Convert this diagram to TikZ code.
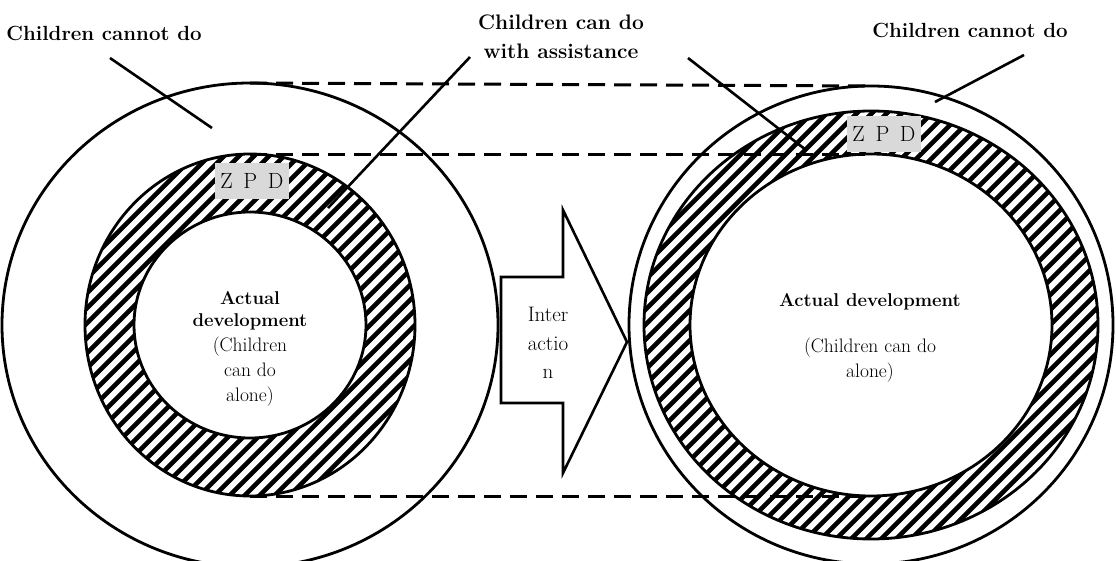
\documentclass[tikz,border=0pt]{standalone}
\usepackage{fontspec}
\begin{document}
\begin{tikzpicture}[x=1pt,y=-1pt,line width=2.6pt,
  lbl/.style={font=\fontsize{20.5}{29}\selectfont\bfseries,inner sep=0pt,align=center},
  intext/.style={font=\fontsize{19.5}{25}\selectfont,inner sep=0pt,align=center},
  boldtext/.style={font=\fontsize{18.5}{22}\selectfont\bfseries,inner sep=0pt,align=center},
  zpd/.style={fill=black!15,inner sep=0pt,minimum width=74pt,minimum height=36pt,font=\fontsize{22}{24}\selectfont},
  leader/.style={line width=2.6pt},
  guideline/.style={line width=3pt,dash pattern=on 17pt off 9pt},
  hatch/.style={line width=4.6pt},
  ring/.style={line width=2.8pt}]
\useasboundingbox (0,0) rectangle (1116,560);
\clip (0,0) rectangle (1116,560);
\fill[white] (0,0) rectangle (1116,560);
% ---------- left circles
\coordinate (LC) at (250,325);
\draw[ring,fill=white] (LC) ellipse [x radius=248pt,y radius=242pt];
\begin{scope}
  \clip (LC) ellipse [x radius=165pt,y radius=171pt];
  \foreach \c in {200,215,...,1000} \draw[hatch] (\c-600,600) -- (\c,0);
\end{scope}
\draw[ring] (LC) ellipse [x radius=165pt,y radius=171pt];
\draw[ring,fill=white] (LC) ellipse [x radius=116pt,y radius=113pt];
% ---------- right circles
\coordinate (RC) at (871,325);
\draw[ring] (RC) ellipse [x radius=242pt,y radius=239pt];
\begin{scope}
  \clip (RC) ellipse [x radius=227pt,y radius=214pt];
  \foreach \c in {700,715,...,1750} \draw[hatch] (\c-600,600) -- (\c,0);
\end{scope}
\draw[ring] (RC) ellipse [x radius=227pt,y radius=214pt];
\draw[ring,fill=white] (RC) ellipse [x radius=181pt,y radius=171pt];
% ---------- dashed guide lines
\coordinate (LoutTop) at (250,83);
\coordinate (RoutTop) at (871,86);
\coordinate (LringTop) at (250,154);
\coordinate (RinTop) at (871,154);
\coordinate (LringBot) at (250,496);
\coordinate (RinBot) at (871,496);
\draw[guideline] (LoutTop) -- (RoutTop);
\draw[guideline] (LringTop) -- (RinTop);
\draw[guideline] (LringBot) -- (RinBot);
% ---------- ZPD labels
\node[zpd] (zpdL) at (252,181) {Z\hspace{4pt} P\hspace{4pt} D};
\node[zpd] (zpdR) at (884,134) {Z\hspace{4pt} P\hspace{4pt} D};
% ---------- inner texts
\node[boldtext] (actL) at (250,311) {Actual\\development};
\node[intext] (canL) at (250,372) {(Children\\can do\\alone)};
\node[boldtext] (actR) at (870,302) {Actual development};
\node[intext] (aloneR) at (870,360) {(Children can do\\alone)};
% ---------- arrow
\draw[line width=2.6pt,fill=white] (501,277) -- (563,277) -- (563,210) -- (627,342) -- (563,473) -- (563,403) -- (501,403) -- cycle;
\node[font=\fontsize{21}{28.5}\selectfont,align=center,inner sep=0pt] (inter) at (548,343) {Inter\\actio\\n};
% ---------- labels and leaders
\node[lbl] (lblL) at (104,33) {Children cannot do};
\node[lbl,font=\fontsize{21}{29}\selectfont\bfseries\addfontfeature{LetterSpace=10}] (lblM) at (561,37) {Children can do\\with assistance};
\node[lbl] (lblR) at (970,30) {Children cannot do};
\coordinate (pL1) at (110,58);  \coordinate (pL2) at (212,128);
\coordinate (pM1) at (470,57);  \coordinate (pM2) at (328,208);
\coordinate (pN1) at (688,58);  \coordinate (pN2) at (806,150);
\coordinate (pR1) at (1024,55); \coordinate (pR2) at (935,102);
\draw[leader] (pL1) -- (pL2);
\draw[leader] (pM1) -- (pM2);
\draw[leader] (pN1) -- (pN2);
\draw[leader] (pR1) -- (pR2);
\end{tikzpicture}
\end{document}
